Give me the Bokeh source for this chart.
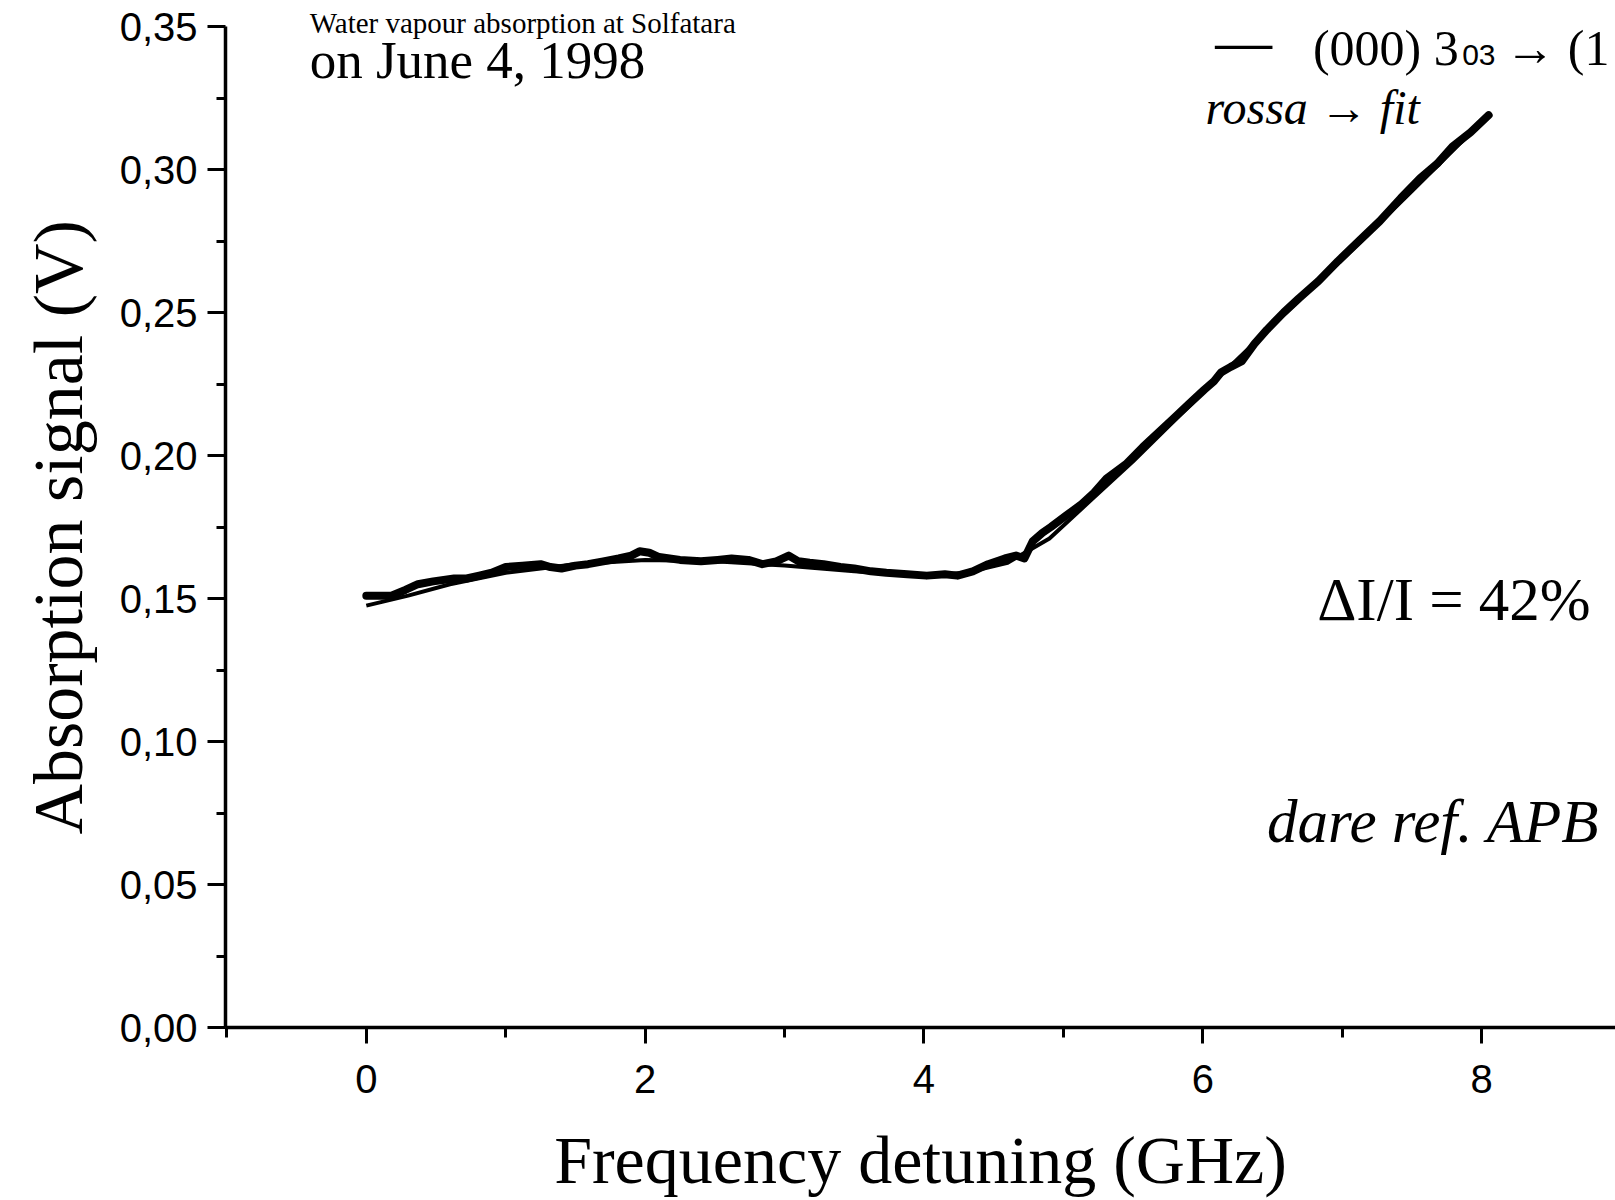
from bokeh.plotting import figure
from bokeh.models import Range1d, FixedTicker, Label, Title
from bokeh.embed import file_html
from bokeh.resources import INLINE

# ---- data ----
freq_data = [0.00, 0.10, 0.18, 0.28, 0.37, 0.48, 0.63, 0.72, 0.81, 0.90, 1.00, 1.12, 1.25, 1.32,
             1.40, 1.50, 1.59, 1.70, 1.81, 1.90, 1.96, 2.03, 2.10, 2.25, 2.40, 2.52, 2.62, 2.74,
             2.84, 2.94, 3.03, 3.10, 3.18, 3.28, 3.40, 3.50, 3.62, 3.73, 3.88, 4.02, 4.15, 4.24,
             4.35, 4.46, 4.58, 4.66, 4.72, 4.78, 4.85, 4.91, 5.02, 5.13, 5.22, 5.31, 5.45, 5.57,
             5.68, 5.79, 5.90, 6.01, 6.08, 6.13, 6.20, 6.28, 6.37, 6.46, 6.58, 6.69, 6.83, 6.97,
             7.12, 7.27, 7.42, 7.56, 7.68, 7.79, 7.92, 8.05]
signal_data = [0.151, 0.151, 0.151, 0.153, 0.155, 0.156, 0.157, 0.157, 0.158, 0.159, 0.161, 0.1615,
               0.162, 0.161, 0.1605, 0.1615, 0.162, 0.163, 0.164, 0.165, 0.1665, 0.166, 0.1645,
               0.1635, 0.163, 0.1635, 0.164, 0.1635, 0.162, 0.163, 0.165, 0.163, 0.1625, 0.162,
               0.161, 0.1605, 0.1595, 0.159, 0.1585, 0.158, 0.1585, 0.158, 0.1595, 0.162, 0.164,
               0.165, 0.164, 0.170, 0.173, 0.175, 0.179, 0.183, 0.187, 0.192, 0.197, 0.203, 0.208,
               0.213, 0.218, 0.223, 0.226, 0.229, 0.231, 0.233, 0.239, 0.244, 0.250, 0.255, 0.261,
               0.268, 0.275, 0.282, 0.290, 0.297, 0.302, 0.308, 0.313, 0.319]

freq_fit = [0.0, 0.3, 0.6, 1.0, 1.5, 2.0, 2.5, 3.0, 3.5, 4.0, 4.3, 4.6, 4.9, 5.2, 5.5, 6.0,
            6.5, 7.0, 7.5, 8.05]
signal_fit = [0.1475, 0.151, 0.155, 0.159, 0.162, 0.1635, 0.163, 0.1615, 0.1595, 0.158, 0.159,
              0.1625, 0.171, 0.1845, 0.198, 0.222, 0.2455, 0.2685, 0.2925, 0.319]

x_ticks = [0, 2, 4, 6, 8]
x_minor_ticks = [-1, 1, 3, 5, 7, 9]
x_tick_labels = ["0", "2", "4", "6", "8"]
y_ticks = [0.0, 0.05, 0.10, 0.15, 0.20, 0.25, 0.30, 0.35]
y_minor_ticks = [0.025, 0.075, 0.125, 0.175, 0.225, 0.275, 0.325]
y_tick_labels = ["0,00", "0,05", "0,10", "0,15", "0,20", "0,25", "0,30", "0,35"]

p = figure(width=1615, height=1200, output_backend="svg", toolbar_location=None,
           x_range=Range1d(-1.01, 8.96), y_range=Range1d(0, 0.3556))
p.title.visible = False
p.min_border_left = 225
p.min_border_right = 0
p.min_border_top = 10
p.min_border_bottom = 173
p.outline_line_color = None
p.grid.visible = False
p.background_fill_color = "white"
p.border_fill_color = "white"

p.line(freq_fit, signal_fit, line_color="black", line_width=4, line_join="round")
p.line(freq_data, signal_data, line_color="black", line_width=8, line_join="round", line_cap="round")

xa = p.xaxis[0]
xa.ticker = FixedTicker(ticks=x_ticks, minor_ticks=x_minor_ticks)
xa.major_label_overrides = {t: l for t, l in zip(x_ticks, x_tick_labels)}
ya = p.yaxis[0]
ya.ticker = FixedTicker(ticks=y_ticks, minor_ticks=y_minor_ticks)
ya.major_label_overrides = {t: l for t, l in zip(y_ticks, y_tick_labels)}
ya.bounds = (0, 0.35)

for ax in (xa, ya):
    ax.axis_line_width = 3.5
    ax.axis_line_color = "black"
    ax.major_tick_line_width = 3
    ax.minor_tick_line_width = 3
    ax.major_tick_in = 0
    ax.minor_tick_in = 0
    ax.major_label_text_font = "Liberation Sans"
    ax.major_label_text_font_size = "40px"
    ax.major_label_text_color = "black"
    ax.axis_label_text_font = "Liberation Serif"
    ax.axis_label_text_font_style = "normal"
    ax.axis_label_text_color = "black"

xa.major_tick_out = 16
xa.minor_tick_out = 10
xa.major_label_standoff = 21
xa.axis_label = "Frequency detuning (GHz)"
xa.axis_label_text_font_size = "68px"
xa.axis_label_standoff = 26

ya.major_tick_out = 18
ya.minor_tick_out = 9
ya.major_label_standoff = 10

# y-axis title as a side title so it can be placed like the reference
p.add_layout(Title(text="Absorption signal (V)", align="left", offset=193, standoff=36,
                   vertical_align="top",
                   text_font="Liberation Serif", text_font_style="normal",
                   text_font_size="70px", text_color="black"), "left")


def note(x, y, text, size, font="Liberation Serif", style="normal"):
    p.add_layout(Label(x=x, y=y, text=text, text_font=font, text_font_style=style,
                       text_font_size=size, text_color="black", text_baseline="alphabetic"))


# ---- text annotations ----
note(-0.406, 0.3513, "Water vapour absorption at Solfatara", "29px")
note(-0.406, 0.3383, "on June 4, 1998", "53px")
note(6.79, 0.3425, "(000) 3", "50px")
note(7.86, 0.3399, "03", "30px", font="Liberation Sans")
note(8.17, 0.3425, "→ (1", "50px")
note(6.09, 0.3450, "—", "64px", style="italic")
note(6.02, 0.3218, "rossa → fit", "48px", style="italic")
note(6.82, 0.1495, "ΔI/I = 42%", "61px")
note(6.46, 0.0721, "dare ref. APB", "61px", style="italic")

open("out.html", "w").write(file_html(p, INLINE))
